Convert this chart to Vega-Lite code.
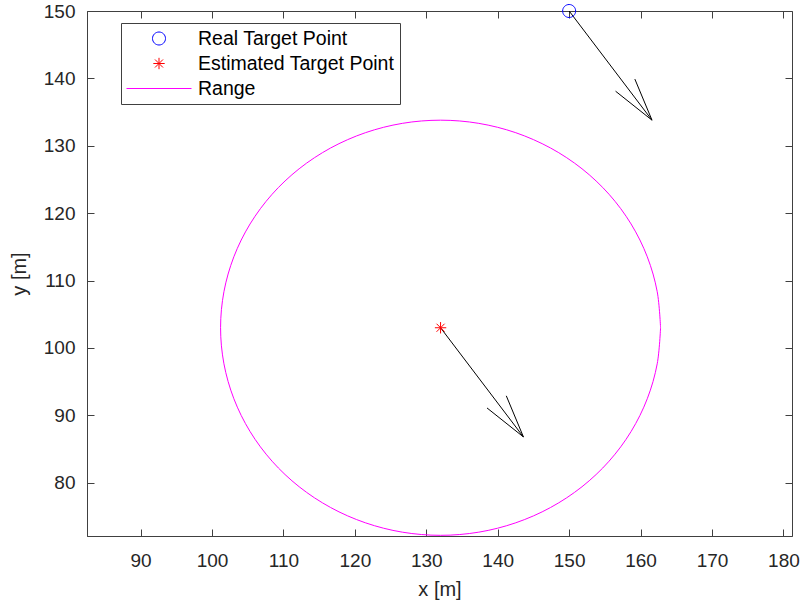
{
  "$schema": "https://vega.github.io/schema/vega-lite/v6.json",
  "width": 705,
  "height": 525,
  "autosize": {"type": "none"},
  "padding": {"left": 87, "top": 11, "right": 11, "bottom": 67},
  "background": "white",
  "config": {
    "view": {"stroke": "#404040", "strokeWidth": 1},
    "font": "Liberation Sans",
    "axis": {
      "grid": false,
      "domainColor": "#404040",
      "tickColor": "#404040",
      "labelColor": "#262626",
      "titleColor": "#262626",
      "labelFont": "Liberation Sans",
      "titleFont": "Liberation Sans",
      "labelFontSize": 19,
      "titleFontSize": 20,
      "titleFontWeight": "normal",
      "tickSize": -7,
      "labelPadding": 22
    },
    "legend": {
      "orient": "none",
      "legendX": 34,
      "legendY": 12,
      "padding": 5,
      "strokeColor": "#404040",
      "fillColor": "white",
      "cornerRadius": 0,
      "labelFont": "Liberation Sans",
      "labelFontSize": 19.5,
      "labelColor": "#000000",
      "labelOffset": 6,
      "labelLimit": 400,
      "rowPadding": 4,
      "clipHeight": 21,
      "symbolSize": 4225,
      "symbolStrokeWidth": 1
    }
  },
  "datasets": {
    "points": [
      {"x": 150, "y": 150, "series": "Real Target Point"},
      {"x": 132, "y": 103, "series": "Estimated Target Point"}
    ],
    "range": [
      {"i": 0, "x": 162.8, "y": 103.0},
      {"i": 1, "x": 162.33, "y": 108.35},
      {"i": 2, "x": 160.94, "y": 113.53},
      {"i": 3, "x": 158.67, "y": 118.4},
      {"i": 4, "x": 155.59, "y": 122.8},
      {"i": 5, "x": 151.8, "y": 126.59},
      {"i": 6, "x": 147.4, "y": 129.67},
      {"i": 7, "x": 142.53, "y": 131.94},
      {"i": 8, "x": 137.35, "y": 133.33},
      {"i": 9, "x": 132.0, "y": 133.8},
      {"i": 10, "x": 126.65, "y": 133.33},
      {"i": 11, "x": 121.47, "y": 131.94},
      {"i": 12, "x": 116.6, "y": 129.67},
      {"i": 13, "x": 112.2, "y": 126.59},
      {"i": 14, "x": 108.41, "y": 122.8},
      {"i": 15, "x": 105.33, "y": 118.4},
      {"i": 16, "x": 103.06, "y": 113.53},
      {"i": 17, "x": 101.67, "y": 108.35},
      {"i": 18, "x": 101.2, "y": 103.0},
      {"i": 19, "x": 101.67, "y": 97.65},
      {"i": 20, "x": 103.06, "y": 92.47},
      {"i": 21, "x": 105.33, "y": 87.6},
      {"i": 22, "x": 108.41, "y": 83.2},
      {"i": 23, "x": 112.2, "y": 79.41},
      {"i": 24, "x": 116.6, "y": 76.33},
      {"i": 25, "x": 121.47, "y": 74.06},
      {"i": 26, "x": 126.65, "y": 72.67},
      {"i": 27, "x": 132.0, "y": 72.2},
      {"i": 28, "x": 137.35, "y": 72.67},
      {"i": 29, "x": 142.53, "y": 74.06},
      {"i": 30, "x": 147.4, "y": 76.33},
      {"i": 31, "x": 151.8, "y": 79.41},
      {"i": 32, "x": 155.59, "y": 83.2},
      {"i": 33, "x": 158.67, "y": 87.6},
      {"i": 34, "x": 160.94, "y": 92.47},
      {"i": 35, "x": 162.33, "y": 97.65},
      {"i": 36, "x": 162.8, "y": 103.0}
    ],
    "arrows": [
      {"x": 150, "y": 150, "x2": 161.6, "y2": 133.8},
      {"x": 161.6, "y": 133.8, "x2": 156.5, "y2": 138.1},
      {"x": 161.6, "y": 133.8, "x2": 159.2, "y2": 139.9},
      {"x": 132, "y": 103, "x2": 143.6, "y2": 86.8},
      {"x": 143.6, "y": 86.8, "x2": 138.5, "y2": 91.1},
      {"x": 143.6, "y": 86.8, "x2": 141.2, "y2": 92.9}
    ]
  },
  "layer": [
    {
      "data": {"name": "range"},
      "mark": {"type": "line", "strokeWidth": 1, "interpolate": "catmull-rom"},
      "encoding": {
        "x": {"field": "x", "type": "quantitative", "scale": {"domain": [82.5, 181.2], "nice": false, "zero": false}, "axis": {"values": [90, 100, 110, 120, 130, 140, 150, 160, 170, 180], "title": "x [m]", "titlePadding": 9}},
        "y": {"field": "y", "type": "quantitative", "scale": {"domain": [72.1, 150], "nice": false, "zero": false}, "axis": {"values": [80, 90, 100, 110, 120, 130, 140, 150], "title": "y [m]", "titlePadding": 14, "labelPadding": 19}},
        "order": {"field": "i", "type": "quantitative"},
        "color": {"datum": "Range", "type": "nominal", "legend": {"title": null}}
      }
    },
    {
      "data": {"name": "arrows"},
      "mark": {"type": "rule", "color": "#000000", "strokeWidth": 1},
      "encoding": {
        "x": {"field": "x", "type": "quantitative", "axis": null},
        "y": {"field": "y", "type": "quantitative", "axis": null},
        "x2": {"field": "x2"},
        "y2": {"field": "y2"}
      }
    },
    {
      "data": {"name": "points"},
      "mark": {"type": "point", "filled": false, "strokeWidth": 1, "opacity": 1, "size": 4225},
      "encoding": {
        "x": {"field": "x", "type": "quantitative", "axis": null},
        "y": {"field": "y", "type": "quantitative", "axis": null},
        "color": {"field": "series", "type": "nominal", "scale": {"domain": ["Real Target Point", "Estimated Target Point", "Range"], "range": ["#0000ff", "#ff0000", "#ff00ff"]}, "legend": {"title": null}},
        "shape": {"field": "series", "type": "nominal", "scale": {"domain": ["Real Target Point", "Estimated Target Point", "Range"], "range": ["M0.2,0A0.2,0.2,0,1,1,-0.2,0A0.2,0.2,0,1,1,0.2,0Z", "M-0.175,0L0.175,0M0,-0.175L0,0.175M-0.124,-0.124L0.124,0.124M-0.124,0.124L0.124,-0.124", "stroke"]}, "legend": {"title": null}}
      }
    },
    {
      "data": {"name": "points"},
      "mark": {"type": "point", "opacity": 0},
      "encoding": {
        "x": {"field": "x", "type": "quantitative", "axis": {"orient": "top", "labels": false, "title": null, "domain": false, "values": [90, 100, 110, 120, 130, 140, 150, 160, 170, 180]}},
        "y": {"field": "y", "type": "quantitative", "axis": {"orient": "right", "labels": false, "title": null, "domain": false, "values": [80, 90, 100, 110, 120, 130, 140, 150]}}
      }
    }
  ],
  "resolve": {"axis": {"x": "independent", "y": "independent"}}
}
